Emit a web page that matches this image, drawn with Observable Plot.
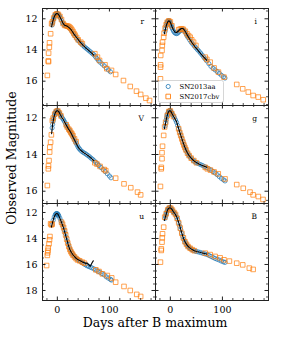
<!DOCTYPE html>
<html><head><meta charset="utf-8">
<script src="https://cdn.jsdelivr.net/npm/d3@7"></script>
<script src="https://cdn.jsdelivr.net/npm/@observablehq/plot@0.6"></script>
<style>
body{margin:0;background:#fff;}
#chart{position:relative;width:291px;height:339px;font-family:"DejaVu Serif",serif;background:#fff;overflow:hidden;}
#chart svg{position:absolute;overflow:visible;background:transparent;}
.ttl{position:absolute;font-size:12.5px;line-height:14px;white-space:nowrap;color:#000;text-align:center;}
</style></head><body><div id="chart"></div>
<script>
// ---- data: [days after B max, observed magnitude] ----
// r band
const r_13aa = [[-10,12.4],[-9,12.25],[-8,12.1],[-7,11.98],[-6,11.88],[-5,11.8],[-4,11.74],[-3,11.7],[-2,11.68],[-1,11.67],[0,11.68],[1,11.7],[2,11.73],[3,11.77],[4,11.83],[6,11.95],[8,12.1],[10,12.25],[12,12.35],[14,12.42],[16,12.45],[18,12.47],[20,12.5],[22,12.55],[25,12.65],[28,12.8],[31,12.95],[34,13.1],[37,13.25],[40,13.38],[43,13.5],[46,13.6],[49,13.7],[52,13.8],[55,13.88],[58,13.96],[61,14.05],[64,14.13],[67,14.22],[70,14.3],[73,14.42],[76,14.55],[79,14.67],[82,14.78],[86,14.9],[90,15.02],[94,15.15],[98,15.28],[102,15.4]];
const r_17cbv = [[-19.2,15.63],[-17.3,14.7],[-17,14.75],[-16.8,14.2],[-15.4,13.82],[-15,13.54],[-12.9,12.96],[-11,12.32],[-9.5,12.2],[-7,11.95],[-4,11.75],[-1,11.68],[2,11.72],[5,11.85],[8,12.05],[11,12.3],[14,12.42],[17,12.45],[20,12.47],[22,12.5],[24,12.55],[26,12.62],[28,12.72],[30,12.82],[32,12.95],[34,13.05],[37,13.2],[40,13.35],[45,13.5],[48,13.6],[72,14.24],[77,14.46],[81,14.67],[91.5,14.95],[95,15.2],[104,15.31],[112,15.57],[127,15.96],[140,16.34],[152,16.64],[160,16.85],[170,17.09],[177,17.24]];
const r_fit = [[-11,12.5],[-9,12.2],[-7,11.97],[-5,11.8],[-3,11.7],[-1,11.66],[1,11.68],[3,11.76],[5,11.88],[8,12.08],[11,12.3],[14,12.42],[17,12.45],[20,12.5],[23,12.58],[26,12.68],[29,12.83],[32,12.98],[35,13.12],[38,13.25],[42,13.42],[46,13.58],[50,13.72],[55,13.88],[60,14.02],[65,14.17],[70,14.33]];
// i band
const i_13aa = [[-10,12.8],[-9,12.6],[-8,12.45],[-7,12.32],[-6,12.22],[-5,12.17],[-4,12.14],[-3,12.13],[-2,12.15],[-1,12.2],[0,12.27],[1,12.35],[2,12.45],[3,12.55],[4,12.65],[6,12.78],[8,12.88],[10,12.93],[12,12.95],[14,12.92],[16,12.85],[18,12.78],[20,12.73],[22,12.7],[24,12.7],[26,12.73],[28,12.82],[30,12.95],[32,13.08],[34,13.2],[37,13.35],[40,13.5],[43,13.62],[46,13.74],[49,13.86],[52,13.97],[55,14.08],[58,14.2],[61,14.32],[64,14.45],[67,14.58],[70,14.7],[74,14.88],[78,15.05],[82,15.18],[86,15.28],[90,15.38],[94,15.5],[98,15.62],[102,15.72],[105,15.8]];
const i_17cbv = [[-19,15.85],[-18.8,15.1],[-18.7,14.95],[-18.5,14.35],[-16,14.03],[-15.5,13.71],[-15,13.5],[-12.8,13.18],[-12,12.92],[-10,12.6],[-8,12.38],[-6,12.22],[-3,12.13],[0,12.2],[3,12.45],[16,12.7],[19,12.66],[22,12.64],[25,12.68],[28.7,12.8],[32,12.96],[35,13.08],[38,13.18],[41,13.35],[44.6,13.5],[49,13.71],[67,14.46],[70,14.6],[76.5,14.78],[84,15.15],[92.4,15.42],[103,15.74],[127.5,16.21],[139,16.49],[149.7,16.7],[159,16.92],[168.8,17.02],[178.4,17.19]];
const i_fit = [[-11.5,12.96],[-9,12.6],[-7,12.35],[-5,12.2],[-3,12.13],[-1,12.17],[1,12.3],[3,12.5],[6,12.72],[9,12.86],[12,12.88],[15,12.8],[18,12.7],[21,12.62],[24,12.62],[27,12.72],[30,12.9],[33,13.08],[37,13.3],[42,13.55],[47,13.78],[52,13.98],[57,14.18],[62,14.38],[67,14.55],[70,14.67]];
// V band
const V_13aa = [[-10,12.55],[-9,12.35],[-8,12.18],[-7,12.03],[-6,11.9],[-5,11.8],[-4,11.72],[-3,11.67],[-2,11.63],[-1,11.62],[0,11.62],[1,11.63],[2,11.65],[3,11.69],[4,11.74],[5,11.8],[6,11.85],[8,11.95],[10,12.03],[12,12.12],[14,12.22],[16,12.33],[18,12.44],[20,12.54],[22,12.63],[24,12.72],[26,12.82],[28,12.92],[30,13.04],[32,13.15],[34,13.27],[36,13.38],[38,13.49],[40,13.6],[42,13.68],[44,13.75],[47,13.83],[50,13.89],[53,13.94],[56,14.0],[59,14.06],[62,14.13],[65,14.2],[68,14.27],[71,14.35],[74,14.43],[77,14.52],[80,14.6],[84,14.71],[88,14.82],[92,14.93],[96,15.05],[100,15.17],[103,15.27]];
const V_17cbv = [[-19.2,15.69],[-17.3,14.78],[-17,14.62],[-16,14.33],[-14.8,13.87],[-14.5,13.6],[-12.9,13.33],[-11.5,12.93],[-9.6,12.15],[-8,12.02],[-5,11.8],[-2,11.65],[1,11.63],[4,11.74],[7,11.9],[17,12.38],[19,12.5],[22,12.62],[24,12.7],[26,12.8],[28,12.88],[30,12.98],[33,13.15],[36,13.3],[72,14.45],[76,14.52],[82,14.65],[90,14.82],[93,14.88],[112,15.29],[128,15.6],[141,15.81],[154,16.05],[160,16.2]];
const V_fit = [[-11,12.87],[-9,12.35],[-7,12.03],[-5,11.8],[-3,11.67],[-1,11.62],[1,11.62],[3,11.68],[6,11.85],[9,12.0],[12,12.12],[15,12.28],[18,12.44],[21,12.59],[24,12.72],[27,12.87],[30,13.04],[33,13.21],[36,13.38],[39,13.55],[42,13.68],[45,13.77],[50,13.89],[55,13.98],[60,14.08],[65,14.2],[70,14.33]];
// g band
const g_13aa = [[-10,12.45],[-9,12.28],[-8,12.12],[-7,11.98],[-6,11.86],[-5,11.77],[-4,11.7],[-3,11.65],[-2,11.62],[-1,11.61],[0,11.62],[1,11.65],[2,11.7],[3,11.77],[4,11.83],[6,11.9],[8,12.0],[10,12.12],[12,12.25],[14,12.42],[16,12.6],[18,12.78],[20,12.95],[22,13.12],[24,13.3],[26,13.46],[28,13.62],[30,13.76],[32,13.87],[34,13.97],[36,14.06],[38,14.14],[41,14.24],[44,14.32],[47,14.4],[50,14.45],[54,14.5],[58,14.55],[62,14.6],[66,14.66],[70,14.72],[74,14.79],[78,14.85],[82,14.93],[86,15.01],[90,15.1],[94,15.2],[98,15.3],[102,15.38],[105,15.44]];
const g_17cbv = [[-19,15.74],[-17.5,14.78],[-17.3,14.7],[-16,14.23],[-16,13.9],[-15,13.55],[-12.8,12.96],[-11,12.5],[-9,12.25],[-6,11.88],[-3,11.66],[0,11.63],[3,11.78],[6,11.93],[16,12.6],[18,12.8],[20,12.97],[22,13.15],[24,13.32],[26,13.48],[28,13.62],[30,13.75],[33,13.93],[36,14.06],[40,14.2],[45,14.33],[50,14.45],[67,14.7],[71,14.78],[77,14.85],[84,14.95],[92,15.05],[105,15.33],[127.5,15.64],[140,15.84],[153,16.05],[159,16.2],[169,16.29],[178,16.45]];
const g_fit = [[-11.5,12.6],[-9,12.28],[-7,11.98],[-5,11.77],[-3,11.65],[-1,11.61],[1,11.64],[3,11.76],[6,11.92],[9,12.06],[12,12.22],[15,12.5],[18,12.78],[21,13.04],[24,13.3],[27,13.54],[30,13.76],[33,13.92],[36,14.06],[40,14.2],[45,14.34],[50,14.44],[55,14.52],[60,14.58],[65,14.64],[70,14.7]];
// u band
const u_13aa = [[-10,12.95],[-8,12.6],[-6,12.35],[-4,12.18],[-3,12.12],[-2,12.09],[-1,12.08],[0,12.1],[1,12.14],[2,12.2],[3,12.28],[5,12.45],[7,12.65],[9,12.85],[11,13.1],[13,13.35],[15,13.6],[17,13.9],[19,14.2],[21,14.45],[23,14.7],[25,14.88],[27,15.05],[29,15.18],[31,15.3],[33,15.4],[36,15.52],[39,15.62],[42,15.7],[45,15.78],[48,15.86],[51,15.95],[54,16.02],[57,16.1],[60,16.15],[63,16.2],[66,16.25],[70,16.33],[74,16.42],[78,16.52],[82,16.6],[86,16.7],[90,16.8],[94,16.95],[98,17.05],[102,17.15],[104,17.2]];
const u_17cbv = [[-20.6,16.08],[-19.2,15.3],[-18.5,15.1],[-18,14.92],[-17.5,14.72],[-16,14.41],[-15,14.1],[-14.2,13.85],[-12.9,12.87],[-11.5,12.95],[-10,12.9],[8,12.75],[10,12.9],[12,13.15],[14,13.42],[16,13.72],[18,14.05],[20,14.35],[22,14.62],[24,14.85],[26,15.02],[28,15.15],[30,15.28],[33,15.42],[36,15.55],[39,15.65],[43,15.72],[48,15.82],[52,15.9],[74,16.41],[80,16.54],[86.5,16.72],[96,16.85],[104.4,17.03],[112,17.36],[128,17.69],[140,18.0],[152.5,18.3],[160,18.46]];
const u_fit = [[-11.5,13.13],[-9,12.75],[-7,12.45],[-5,12.25],[-3,12.12],[-1,12.08],[1,12.12],[3,12.28],[6,12.55],[9,12.87],[12,13.2],[15,13.62],[18,14.05],[21,14.5],[24,14.85],[27,15.08],[30,15.25],[33,15.4],[37,15.56],[41,15.66],[45,15.74],[49,15.82],[52,15.86],[55,15.93],[57,15.88],[59,15.95],[61,16.05],[63,16.15],[65,16.0],[67,15.85],[69,15.72]];
// B band
const B_13aa = [[-10,12.45],[-9,12.28],[-8,12.13],[-7,11.99],[-6,11.87],[-5,11.78],[-4,11.71],[-3,11.67],[-2,11.65],[-1,11.64],[0,11.65],[1,11.68],[2,11.72],[3,11.78],[4,11.85],[5,11.92],[6,11.98],[8,12.05],[10,12.15],[12,12.35],[14,12.55],[16,12.78],[18,13.05],[20,13.32],[22,13.6],[24,13.85],[26,14.08],[28,14.25],[30,14.4],[32,14.52],[34,14.62],[36,14.7],[38,14.77],[41,14.85],[44,14.91],[47,14.96],[50,15.0],[54,15.04],[58,15.08],[62,15.13],[66,15.18],[70,15.23],[74,15.3],[78,15.38],[82,15.46],[86,15.54],[90,15.6],[94,15.66],[98,15.74],[102,15.8],[105,15.84]];
const B_17cbv = [[-19,15.82],[-17.5,14.92],[-17.3,14.8],[-16,14.28],[-15.5,13.95],[-15,13.64],[-12.8,13.13],[-10.8,12.36],[-8,12.1],[-5,11.8],[-2,11.66],[1,11.67],[4,11.82],[7,12.0],[10,12.15],[13,12.45],[16,12.8],[19,13.2],[22,13.6],[25,13.95],[28,14.25],[31,14.45],[34,14.62],[38,14.75],[42,14.86],[46,14.94],[67,15.13],[76.5,15.24],[86,15.38],[95.6,15.49],[103,15.64],[113.4,15.74],[127.5,15.9],[139,16.03],[151.7,16.28],[159,16.38]];
const B_fit = [[-11.5,12.62],[-9,12.28],[-7,11.99],[-5,11.78],[-3,11.67],[-1,11.64],[1,11.67],[3,11.76],[6,11.95],[9,12.1],[12,12.32],[15,12.65],[18,13.02],[21,13.45],[24,13.85],[27,14.15],[30,14.38],[33,14.56],[36,14.68],[40,14.8],[45,14.92],[50,15.0],[55,15.04],[60,15.1],[65,15.15],[70,15.2]];

const bands = ["r","i","V","g","u","B"];
const seriesNames = ["SN2013aa","SN2017cbv"];
const xMajor = [0,100];
const xMinor = [-20,20,40,60,80,120,140,160,180];
const yMajorRows = [[12,14,16],[12,14,16],[12,14,16,18]];

// ---- layout ----
const chart = document.getElementById("chart");
const colX = [42,155], rowY = [8,105,203], rowH = [97,98,97], W = 113;
const xDomain = [-28.5,188.5];
const yDomains = [[11.34,17.56],[11.33,16.67],[11.31,18.77]];
const blue = "#1f77b4", orange = "#ff7f0e", ink = "#222";
const data = {r:[r_13aa,r_17cbv,r_fit], i:[i_13aa,i_17cbv,i_fit], V:[V_13aa,V_17cbv,V_fit], g:[g_13aa,g_17cbv,g_fit], u:[u_13aa,u_17cbv,u_fit], B:[B_13aa,B_17cbv,B_fit]};
const mL=42, mR=4, mT=4, mB=32;

bands.forEach((band, k) => {
  const col = k % 2, row = Math.floor(k/2);
  const H = rowH[row];
  const [lo, hi] = yDomains[row];
  const yMaj = yMajorRows[row];
  const yMin = d3.range(Math.ceil(lo*2)/2, hi, 0.5).filter(v => !yMaj.includes(v));
  const [b, o, f] = data[band];
  const marks = [
    Plot.dot(b, {x: d=>d[0], y: d=>d[1], r: 2.1, stroke: blue, fill: "none", strokeWidth: 0.8, strokeOpacity: 0.9}),
    Plot.dot(o, {x: d=>d[0], y: d=>d[1], symbol: "square", r: 2.6, stroke: orange, fill: "none", strokeWidth: 0.9, strokeOpacity: 0.8}),
    Plot.line(f, {x: d=>d[0], y: d=>d[1], stroke: "#000", strokeWidth: 1.1}),
    Plot.frame({stroke: ink, strokeWidth: 1}),
    Plot.tickX(xMajor, {x: d=>d, insetTop: H-3.5, stroke: ink}),
    Plot.tickX(xMajor, {x: d=>d, insetBottom: H-3.5, stroke: ink}),
    Plot.tickX(xMinor, {x: d=>d, insetTop: H-2, stroke: ink, strokeWidth: 0.8}),
    Plot.tickX(xMinor, {x: d=>d, insetBottom: H-2, stroke: ink, strokeWidth: 0.8}),
    Plot.tickY(yMaj, {y: d=>d, insetRight: W-3.5, stroke: ink}),
    Plot.tickY(yMaj, {y: d=>d, insetLeft: W-3.5, stroke: ink}),
    Plot.tickY(yMin, {y: d=>d, insetRight: W-2, stroke: ink, strokeWidth: 0.8}),
    Plot.tickY(yMin, {y: d=>d, insetLeft: W-2, stroke: ink, strokeWidth: 0.8}),
    Plot.text([band], {text: d=>d, frameAnchor: "top-right", dx: -11.5, dy: 13.5, lineAnchor: "middle", textAnchor: "end", fontSize: 7.5})
  ];
  if (col === 0) marks.push(Plot.axisY({ticks: yMaj, tickFormat: d=>String(d), tickSize: 0, tickPadding: 5, fontSize: 9.5, label: null}));
  if (row === 2) marks.push(Plot.axisX({ticks: xMajor, tickFormat: d=>String(d), tickSize: 0, tickPadding: 6, fontSize: 9.5, label: null}));
  if (band === "i") {
    marks.push(
      Plot.frame({insetLeft: 3, insetRight: 45, insetTop: 72, insetBottom: 3, fill: "white", fillOpacity: 0.8, stroke: "#ccc", strokeWidth: 0.8, rx: 2}),
      Plot.dot([seriesNames[0]], {frameAnchor: "top-left", dx: 12.7, dy: 78, r: 2.1, stroke: blue, fill: "none", strokeWidth: 0.8}),
      Plot.dot([seriesNames[1]], {frameAnchor: "top-left", dx: 12.7, dy: 88, symbol: "square", r: 2.6, stroke: orange, fill: "none", strokeWidth: 0.9}),
      Plot.text([seriesNames[0]], {text: d=>d, frameAnchor: "top-left", dx: 24, dy: 78, lineAnchor: "middle", textAnchor: "start", fontSize: 6.8}),
      Plot.text([seriesNames[1]], {text: d=>d, frameAnchor: "top-left", dx: 24, dy: 88, lineAnchor: "middle", textAnchor: "start", fontSize: 6.8})
    );
  }
  const svg = Plot.plot({
    width: mL + W + mR, height: mT + H + mB,
    marginLeft: mL, marginRight: mR, marginTop: mT, marginBottom: mB,
    x: {domain: xDomain, axis: null},
    y: {domain: [lo, hi], reverse: true, axis: null},
    style: {fontFamily: "DejaVu Serif", fontSize: "9.5px", color: "#000", background: "transparent", overflow: "visible"},
    marks
  });
  svg.style.left = (colX[col] - mL) + "px";
  svg.style.top = (rowY[row] - mT) + "px";
  chart.appendChild(svg);
});

const yt = document.createElement("div");
yt.className = "ttl";
yt.textContent = "Observed Magnitude";
yt.style.width = "200px";
yt.style.left = (12.3 - 100) + "px";
yt.style.top = (158 - 7) + "px";
yt.style.transform = "rotate(-90deg)";
chart.appendChild(yt);

const xt = document.createElement("div");
xt.className = "ttl";
xt.textContent = "Days after B maximum";
xt.style.width = "200px";
xt.style.left = (155 - 100) + "px";
xt.style.top = "316px";
chart.appendChild(xt);
</script></body></html>
